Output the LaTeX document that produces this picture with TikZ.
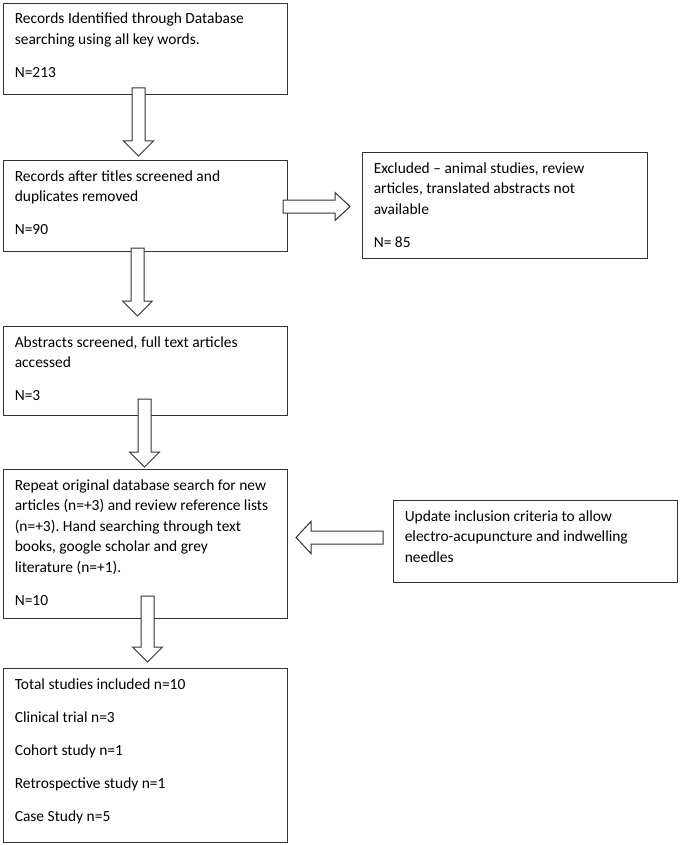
\documentclass[tikz,border=0pt]{standalone}
\usepackage{fontspec}
\setmainfont{Carlito}
\usetikzlibrary{calc}
\frenchspacing
\newcommand\boxtext[1]{\parbox[t]{250pt}{\setlength{\parskip}{9.4pt}\raggedright #1}}
% block arrows: shaft half width 4.875pt, head half width 11.25pt, head length 11.25pt
\newcommand\downarr[2]{%
  \draw[barrow] let \p1=#1, \p2=#2 in
   (\x2-4.875pt,\y1) -- (\x2-4.875pt,\y2+11.25pt) -- (\x2-11.25pt,\y2+11.25pt) -- (\x2,\y2)
   -- (\x2+11.25pt,\y2+11.25pt) -- (\x2+4.875pt,\y2+11.25pt) -- (\x2+4.875pt,\y1) -- cycle;}
\newcommand\rightarr[2]{%
  \draw[barrow] let \p1=#1, \p2=#2 in
   (\x1,\y2+4.875pt) -- (\x2-11.25pt,\y2+4.875pt) -- (\x2-11.25pt,\y2+10.5pt) -- (\x2,\y2)
   -- (\x2-11.25pt,\y2-10.5pt) -- (\x2-11.25pt,\y2-4.875pt) -- (\x1,\y2-4.875pt) -- cycle;}
\newcommand\leftarr[2]{%
  \draw[barrow] let \p1=#1, \p2=#2 in
   (\x1,\y2+4.875pt) -- (\x2+11.25pt,\y2+4.875pt) -- (\x2+11.25pt,\y2+12pt) -- (\x2,\y2)
   -- (\x2+11.25pt,\y2-12pt) -- (\x2+11.25pt,\y2-4.875pt) -- (\x1,\y2-4.875pt) -- cycle;}
\begin{document}
\begin{tikzpicture}[x=0.75pt,y=-0.75pt,
  box/.style={draw=black!80, line width=0.75pt, anchor=north west, inner sep=0pt, fill=white},
  txt/.style={anchor=base west, inner sep=0pt, font=\fontsize{11.6pt}{15.4pt}\selectfont},
  barrow/.style={draw=black!80, line width=0.75pt, fill=white, line join=miter}]
\useasboundingbox[fill=white] (0,0) rectangle (680,845);

% boxes
\node[box, minimum width=284*0.75pt, minimum height=91*0.75pt]  (b1) at (3,3) {};
\node[box, minimum width=284*0.75pt, minimum height=91*0.75pt]  (b2) at (3,160) {};
\node[box, minimum width=285*0.75pt, minimum height=106*0.75pt] (ex) at (362,152) {};
\node[box, minimum width=284*0.75pt, minimum height=89*0.75pt]  (b3) at (3,326) {};
\node[box, minimum width=284*0.75pt, minimum height=149*0.75pt] (b4) at (3,469) {};
\node[box, minimum width=284*0.75pt, minimum height=82*0.75pt]  (up) at (393,500) {};
\node[box, minimum width=284*0.75pt, minimum height=174*0.75pt] (b5) at (3,668) {};

% texts
\node[txt] (b1t) at ([shift={(11.5,21)}]b1.north west) {\boxtext{Records Identified through Database\\ searching using all key words.\par N=213}};
\node[txt] (b2t) at ([shift={(11.5,21)}]b2.north west) {\boxtext{Records after titles screened and\\ duplicates removed\par N=90}};
\node[txt] (ext) at ([shift={(11.5,21)}]ex.north west) {\boxtext{Excluded -- animal studies, review\\ articles, translated abstracts not\\ available\par N= 85}};
\node[txt] (b3t) at ([shift={(11.5,21)}]b3.north west) {\boxtext{Abstracts screened, full text articles\\ accessed\par N=3}};
\node[txt] (b4t) at ([shift={(11.5,21)}]b4.north west) {\boxtext{Repeat original database search for new\\ articles (n=+3) and review reference lists\\ (n=+3). Hand searching through text\\ books, google scholar and grey\\ literature (n=+1).\par N=10}};
\node[txt] (upt) at ([shift={(11.5,21)}]up.north west) {\boxtext{Update inclusion criteria to allow\\ electro-acupuncture and indwelling\\ needles}};
\node[txt] (b5t) at ([shift={(11.5,21)}]b5.north west) {\boxtext{Total studies included n=10\par Clinical trial n=3\par Cohort study n=1\par Retrospective study n=1\par Case Study n=5}};

% block arrows
\downarr{([shift={(-6,-7)}]b1.south)}{([shift={(-7,-4)}]b2.north)}
\downarr{([shift={(-8,-4)}]b2.south)}{([shift={(-8,-10)}]b3.north)}
\downarr{([shift={(0,-17)}]b3.south)}{([shift={(-1,-2)}]b4.north)}
\downarr{([shift={(3,-23)}]b4.south)}{([shift={(2,-6)}]b5.north)}
\rightarr{([shift={(-5,0)}]b2.east)}{([shift={(-12,1)}]ex.west)}
\leftarr{([shift={(-10,0)}]up.west)}{([shift={(8,-6.5)}]b4.east)}
\end{tikzpicture}
\end{document}
